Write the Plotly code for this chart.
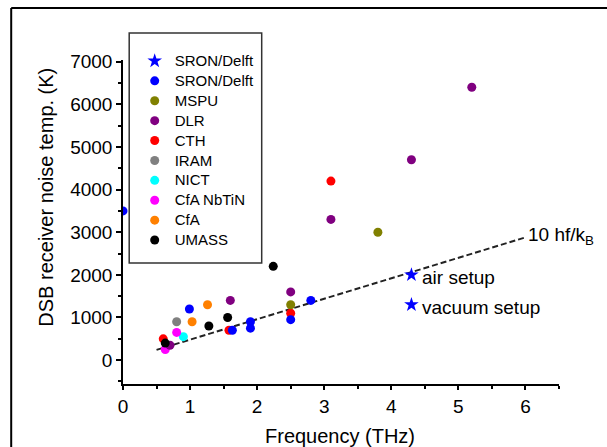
import plotly.graph_objects as go

# ---- data ----
star_x = [4.3, 4.3]
star_y = [2000, 1300]

sron_x = [0.0, 0.99, 1.63, 1.9, 1.9, 2.5, 2.8]
sron_y = [3500, 1200, 700, 900, 750, 950, 1400]

mspu_x = [2.5, 3.8]
mspu_y = [1300, 3000]

dlr_x = [0.7, 1.6, 2.5, 3.1, 4.3, 5.2]
dlr_y = [350, 1400, 1600, 3300, 4700, 6400]

cth_x = [0.6, 1.58, 2.5, 3.1]
cth_y = [500, 700, 1100, 4200]

iram_x = [0.8]
iram_y = [900]

nict_x = [0.9]
nict_y = [550]

cfanb_x = [0.8, 0.63]
cfanb_y = [650, 250]

cfa_x = [1.03, 1.26]
cfa_y = [900, 1300]

umass_x = [0.63, 1.28, 1.56, 2.24]
umass_y = [400, 800, 1000, 2200]

line_x = [0.5, 6.0]
line_y = [480 * v for v in line_x]  # 10 hf/kB, K per THz

x_ticks = [0, 1, 2, 3, 4, 5, 6]
y_ticks = [0, 1000, 2000, 3000, 4000, 5000, 6000, 7000]

FONT = "Arial, Liberation Sans, sans-serif"

# drawing order (legend order via legendrank)
series = [
    ("CTH", cth_x, cth_y, "#ff0000", "circle", 5),
    ("IRAM", iram_x, iram_y, "#808080", "circle", 6),
    ("NICT", nict_x, nict_y, "#00ffff", "circle", 7),
    ("CfA NbTiN", cfanb_x, cfanb_y, "#ff00ff", "circle", 8),
    ("CfA", cfa_x, cfa_y, "#ff8000", "circle", 9),
    ("DLR", dlr_x, dlr_y, "#800080", "circle", 4),
    ("MSPU", mspu_x, mspu_y, "#808000", "circle", 3),
    ("SRON/Delft", sron_x, sron_y, "#0000ff", "circle", 2),
    ("UMASS", umass_x, umass_y, "#000000", "circle", 10),
    ("SRON/Delft", star_x, star_y, "#0000ff", "star", 1),
]

fig = go.Figure()
fig.add_trace(go.Scatter(x=line_x, y=line_y, mode="lines",
                         line=dict(color="#222222", width=2, dash="6px,3px"),
                         showlegend=False, hoverinfo="skip"))
for name, xs, ys, col, sym, rank in series:
    fig.add_trace(go.Scatter(
        x=xs, y=ys, mode="markers", legendrank=rank,
        name='<span style="font-size:15px">' + name + '</span>',
        marker=dict(color=col, symbol=sym, size=11 if sym == "star" else 9,
                    line=dict(width=0)),
    ))

W, H = 607, 447
L, R, T, B = 123.3, 559.3, 60, 384
pw, ph = R - L, B - T
def px(X):
    return (X - L) / pw
def py(Y):
    return (B - Y) / ph

shapes = [
    # legend box
    dict(type="rect", xref="paper", yref="paper",
         x0=px(129.5), x1=px(262), y0=py(263), y1=py(33),
         line=dict(color="#333333", width=1.5), fillcolor="rgba(0,0,0,0)"),
    # outer frame (top and left)
    dict(type="line", xref="paper", yref="paper",
         x0=px(11.5), x1=px(610), y0=py(8), y1=py(8),
         line=dict(color="#000000", width=2)),
    dict(type="line", xref="paper", yref="paper",
         x0=px(11.5), x1=px(11.5), y0=py(8), y1=py(450),
         line=dict(color="#000000", width=2)),
]

annotations = [
    dict(x=6.0, y=2920, xref="x", yref="y", text="10 hf/k<sub>B</sub>",
         showarrow=False, xanchor="left", yanchor="middle", xshift=1,
         font=dict(family=FONT, size=19, color="#000")),
    dict(x=4.3, y=1930, xref="x", yref="y", text="air setup",
         showarrow=False, xanchor="left", yanchor="middle", xshift=9,
         font=dict(family=FONT, size=19, color="#000")),
    dict(x=4.3, y=1230, xref="x", yref="y", text="vacuum setup",
         showarrow=False, xanchor="left", yanchor="middle", xshift=9,
         font=dict(family=FONT, size=19, color="#000")),
    dict(x=px(46), y=py(197), xref="paper", yref="paper",
         xanchor="center", yanchor="middle",
         text="DSB receiver noise temp. (K)", textangle=-90,
         showarrow=False, font=dict(family=FONT, size=20, color="#000")),
    dict(x=px(340), y=py(436), xref="paper", yref="paper",
         xanchor="center", yanchor="middle",
         text="Frequency (THz)",
         showarrow=False, font=dict(family=FONT, size=20, color="#000")),
]

fig.update_layout(
    width=W, height=H,
    margin=dict(l=L, r=W - R, t=T, b=H - B, pad=0),
    paper_bgcolor="white", plot_bgcolor="white",
    font=dict(family=FONT, color="#000"),
    showlegend=True,
    legend=dict(x=px(135), y=py(46), xanchor="left", yanchor="top",
                bgcolor="rgba(0,0,0,0)", borderwidth=0,
                font=dict(family=FONT, size=13, color="#000"),
                tracegroupgap=0, itemwidth=30, maxheight=1000),
    shapes=shapes,
    annotations=annotations,
)
fig.update_xaxes(range=[0, 6.5], tickvals=x_ticks, ticktext=[str(v) for v in x_ticks],
                 showgrid=False, zeroline=False, showline=True, linecolor="#000", linewidth=1.5,
                 ticks="outside", ticklen=4, tickwidth=1.5, tickcolor="#000",
                 tickfont=dict(family=FONT, size=19, color="#000"),
                 minor=dict(dtick=0.5, tick0=0, ticks="outside", ticklen=3, tickwidth=1.5, tickcolor="#000"))
fig.update_yaxes(range=[-560, 7040], tickvals=y_ticks, ticktext=[str(v) for v in y_ticks],
                 showgrid=False, zeroline=False, showline=True, linecolor="#000", linewidth=1.5,
                 ticks="outside", ticklen=5, tickwidth=1.5, tickcolor="#000",
                 tickfont=dict(family=FONT, size=19, color="#000"),
                 minor=dict(dtick=500, tick0=0, ticks="outside", ticklen=3, tickwidth=1.5, tickcolor="#000"))

fig.write_html("out.html")
